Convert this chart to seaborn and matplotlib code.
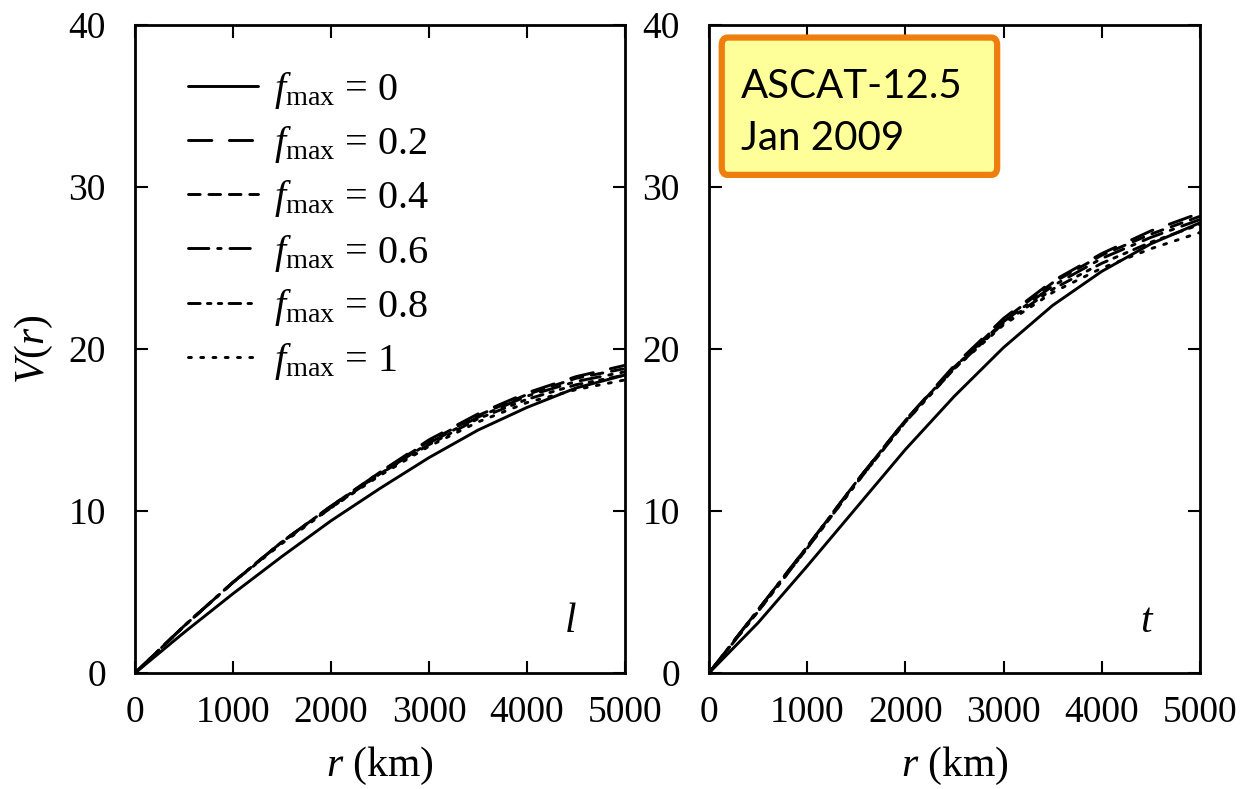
import pandas as pd
import matplotlib.pyplot as plt
import seaborn as sns
import numpy as np
from matplotlib.patches import FancyBboxPatch

# --- Données ---
r_km = [0, 500, 1000, 1500, 2000, 2500, 3000, 3500, 4000, 4500, 5000]
f_max = ["0", "0.2", "0.4", "0.6", "0.8", "1"]

# composante longitudinale (l)
V_l = {
    "0":   [0, 2.5, 4.9, 7.2, 9.4, 11.4, 13.3, 15.0, 16.4, 17.6, 18.4],
    "0.2": [0, 2.9, 5.6, 8.1, 10.3, 12.4, 14.4, 16.0, 17.3, 18.3, 19.0],
    "0.4": [0, 2.9, 5.6, 8.1, 10.3, 12.4, 14.3, 15.9, 17.2, 18.2, 18.8],
    "0.6": [0, 2.9, 5.6, 8.1, 10.3, 12.3, 14.2, 15.8, 17.1, 18.0, 18.6],
    "0.8": [0, 2.9, 5.6, 8.1, 10.2, 12.3, 14.1, 15.7, 16.9, 17.8, 18.4],
    "1":   [0, 2.9, 5.6, 8.0, 10.2, 12.2, 14.0, 15.5, 16.7, 17.5, 18.1],
}

# composante transverse (t)
V_t = {
    "0":   [0, 3.1, 6.6, 10.2, 13.8, 17.1, 20.1, 22.7, 24.8, 26.5, 27.8],
    "0.2": [0, 3.9, 7.8, 11.8, 15.6, 19.0, 21.9, 24.2, 25.9, 27.3, 28.4],
    "0.4": [0, 3.9, 7.8, 11.8, 15.6, 18.9, 21.8, 24.1, 25.8, 27.1, 28.2],
    "0.6": [0, 3.9, 7.8, 11.8, 15.6, 18.9, 21.7, 23.9, 25.6, 26.9, 28.0],
    "0.8": [0, 3.8, 7.7, 11.7, 15.5, 18.8, 21.6, 23.7, 25.3, 26.6, 27.7],
    "1":   [0, 3.8, 7.7, 11.7, 15.5, 18.8, 21.5, 23.5, 25.0, 26.2, 27.2],
}

panel_letters = ["l", "t"]
box_text = "ASCAT-12.5\nJan 2009"

# --- Styles ---
line_styles = {
    "0": "-",
    "0.2": (0, (8, 6)),
    "0.4": (0, (4, 3)),
    "0.6": (0, (7, 3, 1.2, 3)),
    "0.8": (0, (4, 2.5, 1.2, 2.5, 1.2, 2.5)),
    "1": (0, (1, 3.2)),
}

sns.set_theme(style="ticks")
plt.rcParams["font.family"] = ["Liberation Serif", "DejaVu Serif"]
plt.rcParams["mathtext.fontset"] = "custom"
plt.rcParams["mathtext.rm"] = "Liberation Serif"
plt.rcParams["mathtext.it"] = "Liberation Serif:italic"
plt.rcParams["text.color"] = "black"
plt.rcParams["axes.labelcolor"] = "black"
plt.rcParams["xtick.color"] = "black"
plt.rcParams["ytick.color"] = "black"

fig = plt.figure(figsize=(12.41, 7.89), dpi=100)
ax_l = fig.add_axes([0.1088, 0.147, 0.3948, 0.821])
ax_t = fig.add_axes([0.5713, 0.147, 0.3956, 0.821])

for ax, data, letter in zip([ax_l, ax_t], [V_l, V_t], panel_letters):
    for f in f_max:
        df = pd.DataFrame({"r": r_km, "V": data[f]})
        sns.lineplot(data=df, x="r", y="V", ax=ax, color="black", lw=2.1,
                     linestyle=line_styles[f], dash_capstyle="round",
                     label=r"$f_{\mathrm{max}}$ = " + f)
    ax.set_xlim(0, 5000)
    ax.set_ylim(0, 40)
    ax.set_xticks([0, 1000, 2000, 3000, 4000, 5000])
    ax.set_yticks([0, 10, 20, 30, 40])
    ax.tick_params(direction="in", top=True, right=True, length=9, width=1.5,
                   labelsize=27)
    ax.tick_params(axis="x", pad=16)
    ax.tick_params(axis="y", pad=21)
    for s in ax.spines.values():
        s.set_linewidth(2)
        s.set_color("black")
    ax.set_xlabel("$r$ (km)", fontsize=30, labelpad=11)
    ax.set_ylabel("")
    ax.text(0.89, 0.05, letter, transform=ax.transAxes, fontsize=30,
            style="italic", ha="center", va="bottom")
    ax.get_legend().remove()

ax_l.set_ylabel("$V(r)$", fontsize=30, labelpad=10)

handles, labels = ax_l.get_legend_handles_labels()
ax_l.legend(handles, labels, loc="upper left", bbox_to_anchor=(0.05, 0.975),
            frameon=False, fontsize=29, handlelength=1.75, handletextpad=0.4,
            labelspacing=0.33, borderpad=0.2)

# encadré
box = FancyBboxPatch((0.026, 0.769), 0.561, 0.212, transform=ax_t.transAxes,
                     boxstyle="round,pad=0,rounding_size=0.012",
                     facecolor="#FFFF99", edgecolor="#EE7F0E", lw=4.5, zorder=5)
ax_t.add_patch(box)
ax_t.text(0.065, 0.866, box_text, transform=ax_t.transAxes, fontsize=29,
          family=["Lato", "DejaVu Sans"], ha="left", va="center",
          linespacing=1.5, zorder=6)

fig.savefig("out.png", dpi=100)
